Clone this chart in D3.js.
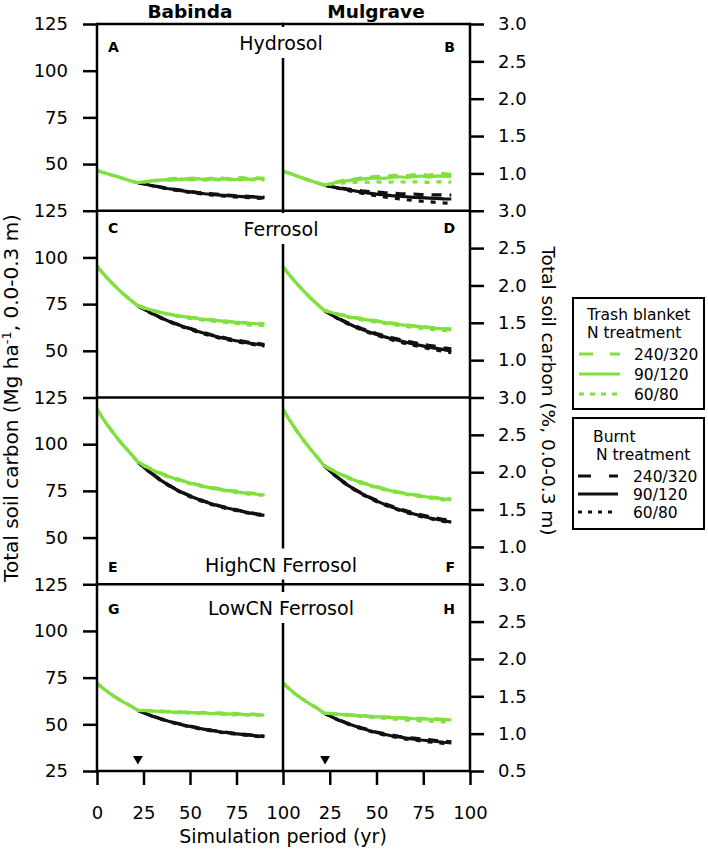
<!DOCTYPE html>
<html><head><meta charset="utf-8">
<script src="https://cdn.jsdelivr.net/npm/d3@7/dist/d3.min.js"></script>
<style>body{margin:0;background:#fff}</style>
</head><body><svg id="c" width="708" height="853"></svg>
<script>
// ---------- data ----------
const sites = ["Babinda", "Mulgrave"];
const soils = ["Hydrosol", "Ferrosol", "HighCN Ferrosol", "LowCN Ferrosol"];
const panelLetters = ["A", "B", "C", "D", "E", "F", "G", "H"];
const treatments = ["240/320", "90/120", "60/80"];
const leftTicks = [25, 50, 75, 100, 125];
const rightTicks = [0.5, 1.0, 1.5, 2.0, 2.5, 3.0];
const xTicks = [0, 25, 50, 75, 100];
const arrowYears = [22, 22.5];
const arrowLevel = 31.5;

const preYears = [0, 3, 6, 9, 12, 15, 18, 22];
const postYears = [22, 26, 30, 34, 38, 42, 46, 50, 54, 58, 62, 66, 70, 74, 78, 82, 86, 90];

// A: Babinda Hydrosol
const A_pre = [46.5, 45.6, 44.7, 43.8, 42.9, 42.0, 41.0, 40.0];
const A_trash240 = [40.0, 40.7, 41.2, 41.6, 41.9, 42.3, 41.8, 42.4, 42.6, 41.9, 42.5, 42.7, 42.0, 42.5, 42.8, 42.1, 42.6, 42.3];
const A_trash90 = [40.0, 40.6, 41.0, 41.4, 41.7, 41.5, 42.0, 41.7, 42.2, 41.6, 42.1, 41.8, 42.2, 41.7, 42.1, 41.8, 42.3, 41.8];
const A_trash60 = [40.0, 40.5, 40.9, 41.2, 41.5, 41.3, 41.8, 41.5, 41.9, 41.4, 41.8, 41.5, 41.9, 41.3, 41.7, 41.4, 41.9, 41.2];
const A_burnt240 = [40.0, 39.3, 38.5, 37.8, 37.1, 36.5, 35.9, 35.4, 34.9, 34.5, 34.1, 33.7, 33.4, 33.1, 32.9, 32.7, 32.6, 32.3];
const A_burnt90 = [40.0, 39.2, 38.4, 37.6, 36.9, 36.3, 35.6, 35.1, 34.6, 34.1, 33.7, 33.4, 33.1, 32.8, 32.6, 32.4, 32.3, 31.9];
const A_burnt60 = [40.0, 39.1, 38.3, 37.5, 36.7, 36.0, 35.4, 34.8, 34.3, 33.8, 33.4, 33.0, 32.7, 32.4, 32.2, 32.0, 31.8, 31.5];

// B: Mulgrave Hydrosol
const B_pre = [46.2, 45.2, 44.2, 43.1, 42.0, 41.0, 40.0, 38.8];
const B_trash240 = [38.8, 39.8, 40.8, 41.5, 42.0, 42.6, 42.9, 43.4, 43.1, 43.8, 44.2, 43.7, 44.4, 44.6, 44.0, 44.8, 44.9, 44.3];
const B_trash90 = [38.8, 39.6, 40.4, 41.0, 41.5, 41.9, 42.3, 42.6, 42.3, 42.9, 43.2, 42.8, 43.3, 43.6, 43.0, 43.5, 43.7, 43.2];
const B_trash60 = [38.8, 39.3, 39.7, 40.0, 40.2, 40.4, 40.2, 40.5, 40.3, 40.4, 40.6, 40.2, 40.5, 40.4, 40.2, 40.5, 40.4, 40.3];
const B_burnt240 = [38.8, 38.0, 37.3, 36.7, 36.2, 35.7, 35.3, 35.0, 34.7, 34.5, 34.2, 34.0, 33.9, 33.7, 33.6, 33.5, 33.5, 33.4];
const B_burnt90 = [38.8, 37.9, 37.1, 36.4, 35.7, 35.0, 34.4, 33.9, 33.5, 33.1, 32.8, 32.5, 32.2, 32.0, 31.8, 31.6, 31.4, 31.3];
const B_burnt60 = [38.8, 37.8, 36.9, 36.0, 35.2, 34.4, 33.6, 33.0, 32.4, 31.9, 31.4, 30.9, 30.5, 30.1, 29.8, 29.5, 29.2, 29.0];

// C: Babinda Ferrosol
const C_pre = [95.2, 91.7, 88.4, 85.3, 82.4, 79.7, 77.2, 74.1];
const C_trash240 = [74.1, 72.9, 71.8, 70.6, 70.0, 69.0, 68.7, 67.9, 67.6, 66.8, 66.7, 66.0, 65.9, 65.3, 65.3, 64.7, 64.8, 64.4];
const C_trash90 = [74.1, 72.8, 71.6, 70.6, 69.8, 69.0, 68.4, 67.9, 67.3, 66.8, 66.4, 66.0, 65.6, 65.4, 65.0, 64.7, 64.5, 64.2];
const C_trash60 = [74.1, 72.6, 71.5, 70.2, 69.6, 68.6, 68.2, 67.3, 67.0, 66.2, 66.0, 65.2, 65.1, 64.5, 64.5, 63.8, 63.9, 63.4];
const C_burnt240 = [74.1, 72.0, 69.9, 68.0, 66.3, 64.7, 63.3, 62.0, 60.8, 59.6, 58.5, 57.6, 56.7, 55.9, 55.2, 54.5, 54.0, 53.4];
const C_burnt90 = [74.1, 71.9, 69.8, 67.9, 66.1, 64.5, 63.1, 61.8, 60.5, 59.3, 58.2, 57.2, 56.3, 55.5, 54.8, 54.1, 53.5, 52.9];
const C_burnt60 = [74.1, 71.8, 69.6, 67.7, 65.9, 64.2, 62.8, 61.4, 60.1, 58.9, 57.8, 56.8, 55.9, 55.1, 54.4, 53.7, 53.1, 52.5];

// D: Mulgrave Ferrosol
const D_pre = [95.0, 91.2, 87.6, 84.2, 81.0, 78.0, 75.2, 71.7];
const D_trash240 = [71.7, 70.7, 69.6, 68.9, 67.9, 67.4, 66.6, 66.2, 65.4, 65.0, 64.3, 64.0, 63.4, 63.2, 62.6, 62.4, 61.9, 61.7];
const D_trash90 = [71.7, 70.5, 69.4, 68.5, 67.7, 67.0, 66.4, 65.8, 65.2, 64.6, 64.1, 63.6, 63.2, 62.8, 62.4, 62.0, 61.7, 61.3];
const D_trash60 = [71.7, 70.3, 69.2, 68.1, 67.4, 66.5, 66.0, 65.2, 64.8, 64.0, 63.6, 62.9, 62.6, 62.0, 61.7, 61.1, 60.9, 60.4];
const D_burnt240 = [71.7, 69.4, 67.2, 65.3, 63.6, 62.0, 60.6, 59.3, 58.2, 57.1, 56.2, 55.2, 54.4, 53.7, 52.9, 52.3, 51.6, 51.0];
const D_burnt90 = [71.7, 69.2, 67.0, 65.0, 63.2, 61.6, 60.1, 58.8, 57.6, 56.5, 55.5, 54.5, 53.6, 52.8, 52.0, 51.3, 50.6, 49.8];
const D_burnt60 = [71.7, 69.1, 66.8, 64.7, 62.9, 61.2, 59.7, 58.3, 57.1, 55.9, 54.8, 53.8, 52.9, 52.0, 51.2, 50.4, 49.7, 49.0];

// E: Babinda HighCN Ferrosol
const E_pre = [118.6, 114.0, 109.7, 105.7, 101.9, 98.4, 95.1, 90.5];
const E_trash240 = [90.5, 88.4, 86.3, 84.7, 83.0, 81.9, 80.5, 79.6, 78.4, 77.7, 76.7, 76.2, 75.4, 75.0, 74.3, 74.0, 73.4, 73.2];
const E_trash90 = [90.5, 88.2, 86.1, 84.3, 82.8, 81.5, 80.3, 79.2, 78.2, 77.3, 76.5, 75.8, 75.2, 74.6, 74.1, 73.6, 73.2, 72.8];
const E_trash60 = [90.5, 88.0, 86.0, 84.0, 82.6, 81.1, 80.1, 78.8, 78.0, 76.9, 76.3, 75.4, 75.0, 74.2, 73.9, 73.2, 73.0, 72.4];
const E_burnt240 = [90.5, 87.1, 84.0, 81.1, 78.5, 76.2, 74.2, 72.4, 70.8, 69.4, 68.1, 67.0, 66.0, 65.1, 64.2, 63.4, 62.7, 62.2];
const E_burnt90 = [90.5, 87.0, 83.8, 80.9, 78.3, 76.0, 74.0, 72.2, 70.6, 69.2, 67.9, 66.8, 65.8, 64.9, 64.0, 63.2, 62.5, 61.9];
const E_burnt60 = [90.5, 86.9, 83.7, 80.7, 78.1, 75.8, 73.7, 71.9, 70.3, 68.9, 67.6, 66.5, 65.5, 64.6, 63.7, 62.9, 62.2, 61.6];

// F: Mulgrave HighCN Ferrosol
const F_pre = [118.6, 113.7, 109.1, 104.8, 100.8, 97.0, 93.4, 88.5];
const F_trash240 = [88.5, 86.4, 84.3, 82.7, 81.0, 79.7, 78.3, 77.3, 76.2, 75.3, 74.4, 73.7, 73.0, 72.5, 71.8, 71.4, 70.9, 70.6];
const F_trash90 = [88.5, 86.2, 84.2, 82.4, 80.8, 79.4, 78.1, 77.0, 76.0, 75.0, 74.2, 73.4, 72.8, 72.2, 71.6, 71.1, 70.7, 70.3];
const F_trash60 = [88.5, 86.0, 84.1, 82.1, 80.6, 79.0, 77.9, 76.6, 75.7, 74.6, 73.9, 73.0, 72.5, 71.7, 71.2, 70.5, 70.2, 69.5];
const F_burnt240 = [88.5, 84.9, 81.6, 78.7, 76.1, 73.8, 71.8, 70.0, 68.3, 66.9, 65.5, 64.3, 63.2, 62.2, 61.3, 60.5, 59.7, 59.0];
const F_burnt90 = [88.5, 84.8, 81.5, 78.5, 75.9, 73.6, 71.5, 69.6, 67.9, 66.4, 65.0, 63.8, 62.6, 61.6, 60.6, 59.8, 59.0, 58.3];
const F_burnt60 = [88.5, 84.7, 81.3, 78.3, 75.6, 73.3, 71.2, 69.3, 67.6, 66.1, 64.7, 63.4, 62.2, 61.2, 60.3, 59.4, 58.6, 57.9];

// G: Babinda LowCN Ferrosol
const G_pre = [72.0, 69.5, 67.2, 65.1, 63.2, 61.5, 59.9, 57.5];
const G_trash240 = [57.5, 57.5, 57.2, 57.3, 56.8, 57.0, 56.5, 56.7, 56.2, 56.4, 55.9, 56.1, 55.7, 55.9, 55.4, 55.7, 55.2, 55.4];
const G_trash90 = [57.5, 57.3, 57.1, 56.9, 56.7, 56.6, 56.4, 56.3, 56.1, 56.0, 55.8, 55.7, 55.6, 55.5, 55.3, 55.2, 55.1, 55.0];
const G_trash60 = [57.5, 57.1, 57.0, 56.6, 56.6, 56.2, 56.3, 55.9, 56.0, 55.6, 55.7, 55.3, 55.5, 55.1, 55.2, 54.8, 55.0, 54.6];
const G_burnt240 = [57.5, 55.9, 54.4, 53.1, 51.9, 50.8, 49.9, 49.0, 48.2, 47.5, 46.8, 46.2, 45.7, 45.2, 44.8, 44.4, 44.0, 43.7];
const G_burnt90 = [57.5, 55.8, 54.3, 53.0, 51.8, 50.7, 49.7, 48.8, 48.0, 47.3, 46.6, 46.0, 45.5, 45.0, 44.6, 44.2, 43.8, 43.4];
const G_burnt60 = [57.5, 55.7, 54.2, 52.8, 51.6, 50.5, 49.5, 48.6, 47.8, 47.0, 46.4, 45.8, 45.2, 44.8, 44.3, 43.9, 43.5, 43.1];

// H: Mulgrave LowCN Ferrosol
const H_pre = [72.0, 69.3, 66.8, 64.5, 62.4, 60.5, 58.8, 56.0];
const H_trash240 = [56.0, 55.8, 55.5, 55.3, 54.9, 54.8, 54.3, 54.3, 53.9, 53.9, 53.5, 53.5, 53.1, 53.2, 52.8, 52.9, 52.6, 52.7];
const H_trash90 = [56.0, 55.7, 55.4, 55.1, 54.8, 54.5, 54.2, 54.0, 53.8, 53.6, 53.4, 53.2, 53.0, 52.9, 52.7, 52.6, 52.5, 52.4];
const H_trash60 = [56.0, 55.5, 55.3, 54.8, 54.6, 54.1, 53.9, 53.4, 53.3, 52.8, 52.8, 52.2, 52.3, 51.7, 51.8, 51.2, 51.4, 50.8];
const H_burnt240 = [56.0, 54.1, 52.4, 50.8, 49.4, 48.1, 47.0, 45.9, 45.0, 44.3, 43.6, 43.0, 42.6, 42.1, 41.8, 41.3, 41.0, 40.6];
const H_burnt90 = [56.0, 54.0, 52.2, 50.6, 49.2, 47.9, 46.7, 45.6, 44.7, 43.9, 43.2, 42.6, 42.1, 41.6, 41.2, 40.8, 40.4, 40.1];
const H_burnt60 = [56.0, 53.9, 52.0, 50.4, 48.9, 47.6, 46.4, 45.3, 44.3, 43.5, 42.8, 42.1, 41.6, 41.1, 40.6, 40.2, 39.8, 39.4];

const panels = [
  {pre: A_pre, trash: [A_trash240, A_trash90, A_trash60], burnt: [A_burnt240, A_burnt90, A_burnt60]},
  {pre: B_pre, trash: [B_trash240, B_trash90, B_trash60], burnt: [B_burnt240, B_burnt90, B_burnt60]},
  {pre: C_pre, trash: [C_trash240, C_trash90, C_trash60], burnt: [C_burnt240, C_burnt90, C_burnt60]},
  {pre: D_pre, trash: [D_trash240, D_trash90, D_trash60], burnt: [D_burnt240, D_burnt90, D_burnt60]},
  {pre: E_pre, trash: [E_trash240, E_trash90, E_trash60], burnt: [E_burnt240, E_burnt90, E_burnt60]},
  {pre: F_pre, trash: [F_trash240, F_trash90, F_trash60], burnt: [F_burnt240, F_burnt90, F_burnt60]},
  {pre: G_pre, trash: [G_trash240, G_trash90, G_trash60], burnt: [G_burnt240, G_burnt90, G_burnt60]},
  {pre: H_pre, trash: [H_trash240, H_trash90, H_trash60], burnt: [H_burnt240, H_burnt90, H_burnt60]}
];

// ---------- layout / style ----------
const svg = d3.select("#c");
const FONT = "'DejaVu Sans', sans-serif";
const xL = 97, xM = 283, xR = 470, top0 = 24, rowH = 186.75;
const bottomY = top0 + 4 * rowH;
const GREEN = "#80e040", BLACK = "#111";
const AX = 2.5;
const chartDash = ["10,8", null, "5,7"];
const legDashGreen = ["14,17", null, "5,6"];
const legDashBlack = ["13,18", null, "4,6"];
const drawOrder = [0, 2, 1];

const xScales = [
  d3.scaleLinear().domain([0, 100]).range([xL, xM]),
  d3.scaleLinear().domain([0, 100]).range([xM, xR])
];
const yScales = d3.range(4).map(r => d3.scaleLinear().domain([25, 125]).range([top0 + (r + 1) * rowH, top0 + r * rowH]));
const yRScales = d3.range(4).map(r => d3.scaleLinear().domain([0.5, 3.0]).range([top0 + (r + 1) * rowH, top0 + r * rowH]));

const gLines = svg.append("g");
const gFrame = svg.append("g");
const gText = svg.append("g");

// series
for (let r = 0; r < 4; r++) {
  for (let c = 0; c < 2; c++) {
    const p = panels[r * 2 + c];
    const x = xScales[c], y = yScales[r];
    const line = d3.line().x(d => x(d[0])).y(d => y(d[1]));
    drawOrder.forEach(i => {
      const data = postYears.map((t, k) => [t, p.burnt[i][k]]);
      gLines.append("path").attr("d", line(data)).attr("fill", "none")
        .attr("stroke", BLACK).attr("stroke-width", 3.2)
        .attr("stroke-dasharray", chartDash[i]);
    });
    drawOrder.forEach(i => {
      const data = preYears.map((t, k) => [t, p.pre[k]])
        .concat(postYears.slice(1).map((t, k) => [t, p.trash[i][k + 1]]));
      gLines.append("path").attr("d", line(data)).attr("fill", "none")
        .attr("stroke", GREEN).attr("stroke-width", 3.2)
        .attr("stroke-dasharray", chartDash[i]);
    });
  }
}

// frame
function hline(yv) {
  gFrame.append("line").attr("x1", xL).attr("x2", xR).attr("y1", yv).attr("y2", yv)
    .attr("stroke", "#000").attr("stroke-width", AX);
}
for (let r = 0; r <= 4; r++) hline(top0 + r * rowH);
[xL, xM, xR].forEach(xv => gFrame.append("line").attr("x1", xv).attr("x2", xv)
  .attr("y1", top0 - AX / 2).attr("y2", bottomY + AX / 2).attr("stroke", "#000").attr("stroke-width", AX));

function styleAxis(g) {
  g.select(".domain").remove();
  g.selectAll(".tick line").attr("stroke", "#000").attr("stroke-width", AX);
  g.selectAll(".tick text").attr("fill", "#000").style("font-family", FONT).style("font-size", "18px");
}

for (let r = 0; r < 4; r++) {
  const lt = r === 3 ? leftTicks : leftTicks.slice(1);
  const rt = r === 3 ? rightTicks : rightTicks.slice(1);
  gFrame.append("g").attr("transform", `translate(${xL},0)`)
    .call(d3.axisLeft(yScales[r]).tickValues(lt).tickSize(14).tickPadding(15))
    .call(styleAxis);
  gFrame.append("g").attr("transform", `translate(${xR},0)`)
    .call(d3.axisRight(yRScales[r]).tickValues(rt).tickSize(14).tickPadding(14).tickFormat(d3.format(".1f")))
    .call(styleAxis);
}
gFrame.append("g").attr("transform", `translate(0,${bottomY})`)
  .call(d3.axisBottom(xScales[0]).tickValues(xTicks).tickSize(14).tickPadding(21))
  .call(styleAxis);
gFrame.append("g").attr("transform", `translate(0,${bottomY})`)
  .call(d3.axisBottom(xScales[1]).tickValues(xTicks.slice(1)).tickSize(14).tickPadding(21))
  .call(styleAxis);

// soil titles (with white background covering the centre line)
const titleBase = [50, 236, 571.5, 615];
soils.forEach((s, r) => {
  const t = gText.append("text").attr("x", 281).attr("y", titleBase[r]).attr("text-anchor", "middle")
    .style("font-family", FONT).style("font-size", "19px").text(s);
  const bb = t.node().getBBox();
  gText.insert("rect", "text").attr("x", bb.x - 3).attr("y", titleBase[r] - 23)
    .attr("width", bb.width + 6).attr("height", 31).attr("fill", "#fff");
});

// panel letters
const letterBase = [51.5, 233, 571.5, 614];
panelLetters.forEach((L, i) => {
  const r = Math.floor(i / 2), c = i % 2;
  gText.append("text").attr("x", c ? 455 : 108).attr("y", letterBase[r])
    .attr("text-anchor", c ? "end" : "start")
    .style("font-family", FONT).style("font-size", "14px").style("font-weight", "bold").text(L);
});

// column titles
[190, 376].forEach((cx, i) => gText.append("text").attr("x", cx).attr("y", 18).attr("text-anchor", "middle")
  .style("font-family", FONT).style("font-size", "18.5px").style("font-weight", "bold").text(sites[i]));

// arrows
arrowYears.forEach((t, c) => {
  gText.append("path").attr("d", d3.symbol().type(d3.symbolTriangle).size(42)())
    .attr("transform", `translate(${xScales[c](t)},${yScales[3](arrowLevel)}) rotate(180)`)
    .attr("fill", "#000");
});

// axis titles
gText.append("text").attr("x", 283).attr("y", 843).attr("text-anchor", "middle")
  .style("font-family", FONT).style("font-size", "19px").text("Simulation period (yr)");
const lt = gText.append("text").attr("transform", "translate(18,398) rotate(-90)").attr("text-anchor", "middle")
  .style("font-family", FONT).style("font-size", "20px");
lt.append("tspan").text("Total soil carbon (Mg ha");
lt.append("tspan").attr("dy", -7).style("font-size", "13px").text("-1");
lt.append("tspan").attr("dy", 7).text(", 0.0-0.3 m)");
gText.append("text").attr("transform", "translate(542,391) rotate(90)").attr("text-anchor", "middle")
  .style("font-family", FONT).style("font-size", "18.5px").text("Total soil carbon (%, 0.0-0.3 m)");

// legends
function legend(y0, h, titleLines, titleX, titleBases, color, dashes, lineX1, lineX2, lineYs, labelX) {
  const g = svg.append("g");
  g.append("rect").attr("x", 573).attr("y", y0).attr("width", 131).attr("height", h)
    .attr("fill", "#fff").attr("stroke", "#000").attr("stroke-width", 2);
  titleLines.forEach((tl, i) => g.append("text").attr("x", titleX[i]).attr("y", titleBases[i])
    .style("font-family", FONT).style("font-size", "15.5px").text(tl));
  treatments.forEach((tr, i) => {
    g.append("line").attr("x1", lineX1).attr("x2", lineX2).attr("y1", lineYs[i]).attr("y2", lineYs[i])
      .attr("stroke", color).attr("stroke-width", 3.2).attr("stroke-dasharray", dashes[i]);
    g.append("text").attr("x", labelX).attr("y", lineYs[i] + 6)
      .style("font-family", FONT).style("font-size", "15.5px").text(tr);
  });
}
legend(298, 111, ["Trash blanket", "N treatment"], [587, 587], [320, 338], GREEN, legDashGreen, 579, 620, [354, 374, 394], 634);
legend(418, 111, ["Burnt", "N treatment"], [593, 596], [442, 460], BLACK, legDashBlack, 578, 618, [476, 494, 512], 633);
</script></body></html>
